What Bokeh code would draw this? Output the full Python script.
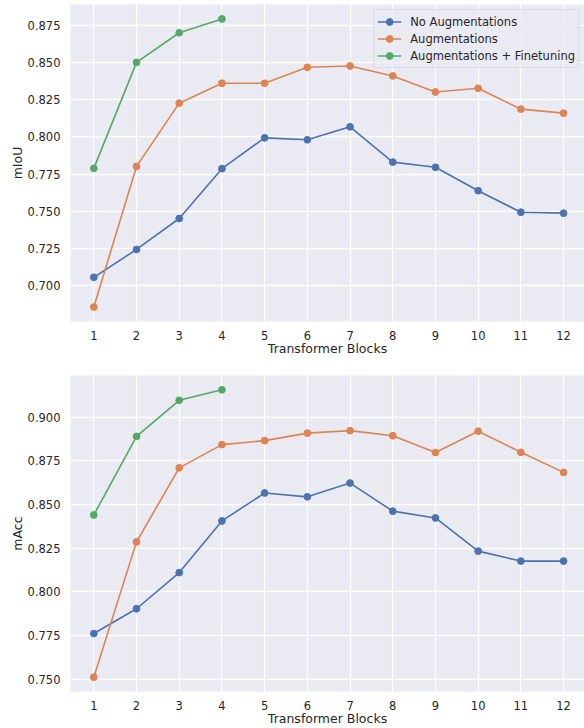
from bokeh.plotting import figure
from bokeh.layouts import column
from bokeh.models import FixedTicker, NumeralTickFormatter, Range1d
from bokeh.embed import file_html
from bokeh.resources import INLINE

blocks = [1, 2, 3, 4, 5, 6, 7, 8, 9, 10, 11, 12]

miou_no_aug = [0.7056, 0.7243, 0.7451, 0.7786, 0.7993, 0.7980, 0.8067, 0.7830, 0.7795, 0.7638, 0.7493, 0.7487]
miou_aug = [0.6856, 0.7801, 0.8226, 0.8360, 0.8360, 0.8467, 0.8476, 0.8409, 0.8301, 0.8326, 0.8186, 0.8159]
miou_aug_ft = [0.7788, 0.8500, 0.8699, 0.8792]

macc_no_aug = [0.7761, 0.7903, 0.8110, 0.8406, 0.8566, 0.8544, 0.8623, 0.8462, 0.8423, 0.8233, 0.8176, 0.8176]
macc_aug = [0.7511, 0.8286, 0.8710, 0.8843, 0.8866, 0.8909, 0.8923, 0.8894, 0.8798, 0.8920, 0.8799, 0.8684]
macc_aug_ft = [0.8440, 0.8890, 0.9097, 0.9157]

series_names = ["No Augmentations", "Augmentations", "Augmentations + Finetuning"]
colors = ["#4C72B0", "#DD8452", "#55A868"]

miou_ticks = [0.700, 0.725, 0.750, 0.775, 0.800, 0.825, 0.850, 0.875]
macc_ticks = [0.750, 0.775, 0.800, 0.825, 0.850, 0.875, 0.900]

FONT = "DejaVu Sans"
TXT = "#262626"


def make_fig(height, yr, yticks, ylabel, top_border, bottom_border):
    p = figure(width=584, height=height, output_backend="svg", toolbar_location=None,
               x_range=Range1d(0.454, 12.49), y_range=yr,
               min_border_left=70, min_border_right=0, min_border_top=top_border,
               min_border_bottom=bottom_border)
    p.background_fill_color = "#EAEAF2"
    p.border_fill_color = "white"
    p.outline_line_color = None
    for g in (p.xgrid, p.ygrid):
        g.grid_line_color = "white"
        g.grid_line_width = 1.3
    p.xaxis.ticker = FixedTicker(ticks=blocks)
    p.yaxis.ticker = FixedTicker(ticks=yticks)
    p.yaxis.formatter = NumeralTickFormatter(format="0.000")
    for ax in (p.xaxis, p.yaxis):
        ax.axis_line_color = None
        ax.major_tick_line_color = None
        ax.minor_tick_line_color = None
        ax.major_tick_out = 0
        ax.major_tick_in = 0
        ax.major_label_text_font = FONT
        ax.major_label_text_font_size = "11.5px"
        ax.major_label_text_color = TXT
        ax.axis_label_text_font = FONT
        ax.axis_label_text_font_size = "12.5px"
        ax.axis_label_text_font_style = "normal"
        ax.axis_label_text_color = TXT
    p.xaxis.major_label_standoff = 9
    p.yaxis.major_label_standoff = 10
    p.xaxis.axis_label_standoff = -2
    p.yaxis.axis_label_standoff = 0
    p.xaxis.axis_label = "Transformer Blocks"
    p.yaxis.axis_label = ylabel
    return p


p1 = make_fig(368, Range1d(0.6759, 0.8889), miou_ticks, "mIoU", 4, 47)
p2 = make_fig(360, Range1d(0.7429, 0.9239), macc_ticks, "mAcc", 7, 0)

for p, data, legend in ((p1, (miou_no_aug, miou_aug, miou_aug_ft), True),
                        (p2, (macc_no_aug, macc_aug, macc_aug_ft), False)):
    for name, col, ys in zip(series_names, colors, data):
        xs = blocks[:len(ys)]
        if legend:
            p.line(xs, ys, line_color=col, line_width=1.6, legend_label=name)
            p.scatter(xs, ys, size=6.8, fill_color=col, line_color=col, legend_label=name)
        else:
            p.line(xs, ys, line_color=col, line_width=1.6)
            p.scatter(xs, ys, size=6.8, fill_color=col, line_color=col)

lg = p1.legend[0]
lg.location = "top_right"
lg.margin = 5
lg.padding = 3
lg.spacing = 0
lg.glyph_width = 24
lg.glyph_height = 17
lg.label_height = 17
lg.label_standoff = 9
lg.label_text_font = FONT
lg.label_text_font_size = "11.5px"
lg.label_text_color = TXT
lg.background_fill_color = "#EAEAF2"
lg.background_fill_alpha = 0.8
lg.border_line_color = "#CCCCCC"
lg.border_line_width = 1

layout = column(p1, p2, spacing=0)
open("out.html", "w").write(file_html(layout, INLINE))
